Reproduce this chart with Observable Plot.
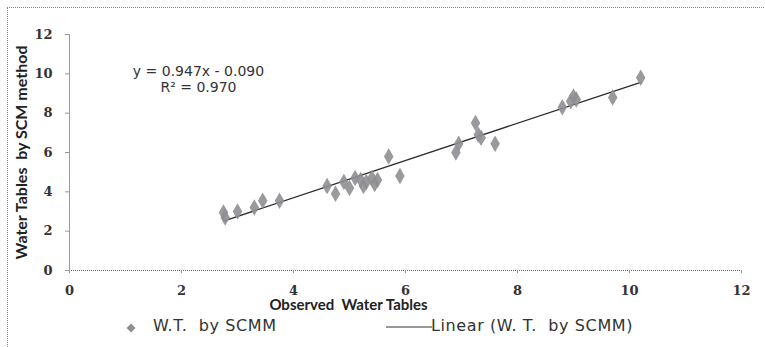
<!DOCTYPE html>
<html><head><meta charset="utf-8">
<script src="https://cdn.jsdelivr.net/npm/d3@7"></script>
<script src="https://cdn.jsdelivr.net/npm/@observablehq/plot@0.6"></script>
<style>
body{margin:0;background:#fff;}
#wrap{position:relative;width:765px;height:347px;overflow:hidden;background:#fff;}
#frame{position:absolute;left:7px;top:7px;width:760px;height:345px;border-left:1px dotted #888;border-top:1px dotted #888;}
#chart{position:absolute;left:0;top:0;}
#legend{position:absolute;top:316px;left:0;width:765px;height:22px;font-family:"DejaVu Sans",sans-serif;font-size:16px;letter-spacing:0.6px;color:#333;}
.lg{position:absolute;top:0;white-space:pre;}
</style></head><body>
<div id="wrap"><div id="frame"></div><div id="chart"></div>
<div id="legend">
<svg class="lg" style="left:125px;top:6px" width="12" height="12"><path d="M6,1.5L10.5,6L6,10.5L1.5,6Z" fill="#8e8e94"/></svg>
<span class="lg" style="left:153px">W.T.  by SCMM</span>
<svg class="lg" style="left:386px;top:10px" width="46" height="3"><line x1="0" y1="1" x2="46" y2="1" stroke="#333" stroke-width="1"/></svg>
<span class="lg" style="left:431px">Linear (W. T.  by SCMM)</span>
</div></div>
<script>
const observed = [2.75, 2.78, 3.0, 3.3, 3.45, 3.75, 4.6, 4.75, 4.9, 5.0, 5.1, 5.2, 5.25, 5.3, 5.4, 5.45, 5.5, 5.7, 5.9, 6.9, 6.95, 7.25, 7.3, 7.35, 7.6, 8.8, 8.95, 9.0, 9.05, 9.7, 10.2];
const scmm =     [2.95, 2.7, 3.0, 3.2, 3.55, 3.55, 4.3, 3.9, 4.5, 4.2, 4.7, 4.6, 4.3, 4.5, 4.7, 4.4, 4.6, 5.8, 4.8, 6.0, 6.45, 7.5, 6.9, 6.75, 6.45, 8.3, 8.6, 8.85, 8.7, 8.8, 9.8];
const slope = 0.947, intercept = -0.090;
const eqLines = ["y = 0.947x - 0.090", "R² = 0.970"];
const xTicks = [0, 2, 4, 6, 8, 10, 12];
const yTicks = [0, 2, 4, 6, 8, 10, 12];
const xTitle = "Observed  Water Tables";
const yTitle = "Water Tables  by SCM method";

const pts = observed.map((x, i) => ({x, y: scmm[i]}));
const ext = d3.extent(observed);
const fit = ext.map(x => ({x, y: slope * x + intercept}));
const tickFont = {fontFamily: "DejaVu Serif, serif", fontSize: 13, fontWeight: "bold", fill: "#333"};

const chart = Plot.plot({
  width: 765, height: 316,
  marginLeft: 69, marginRight: 24, marginTop: 34, marginBottom: 46,
  style: {fontFamily: "DejaVu Serif, serif", fontSize: "13px", color: "#222", background: "transparent"},
  x: {domain: [0, 12], ticks: xTicks},
  y: {domain: [0, 12], ticks: yTicks},
  marks: [
    Plot.ruleX([0], {stroke: "#999", strokeWidth: 1}),
    Plot.ruleY([0], {stroke: "#666", strokeWidth: 1, strokeDasharray: "1,1"}),
    Plot.axisY({ticks: yTicks, tickSize: 4, stroke: "#999", tickFormat: () => "",
      label: yTitle, labelAnchor: "center", labelArrow: "none", labelOffset: 54}),
    Plot.axisX({ticks: xTicks, tickSize: 3, stroke: "#999", tickFormat: () => "", label: null}),
    Plot.text(yTicks, {x: 0, y: d => d, text: d => String(d), textAnchor: "end", dx: -17, ...tickFont}),
    Plot.text(xTicks, {x: d => d, y: 0, text: d => String(d), dy: 20, ...tickFont}),
    Plot.line(fit, {x: "x", y: "y", stroke: "#2a2a2a", strokeWidth: 1.3}),
    Plot.dot(pts, {x: "x", y: "y", symbol: "diamond", r: 5, fill: "#8e8e94", fillOpacity: 0.9}),
    Plot.text([eqLines.join("\n")], {frameAnchor: "top-left", dx: 129, dy: 31, textAnchor: "middle", lineHeight: 1.1,
      fontFamily: "DejaVu Sans, sans-serif", fontSize: 14, fill: "#333"}),
    Plot.text([xTitle], {frameAnchor: "bottom", dx: -57, dy: 39, fontFamily: "Lato, sans-serif", fontWeight: "bold", fontSize: 15, fill: "#222"})
  ]
});
chart.querySelectorAll("[aria-label='y-axis label'] text").forEach(t => {
  t.setAttribute("font-family", "Lato, sans-serif");
  t.setAttribute("font-size", "16");
  t.setAttribute("font-weight", "bold");
  t.setAttribute("fill", "#222");
});
document.getElementById("chart").appendChild(chart);
</script>
</body></html>
